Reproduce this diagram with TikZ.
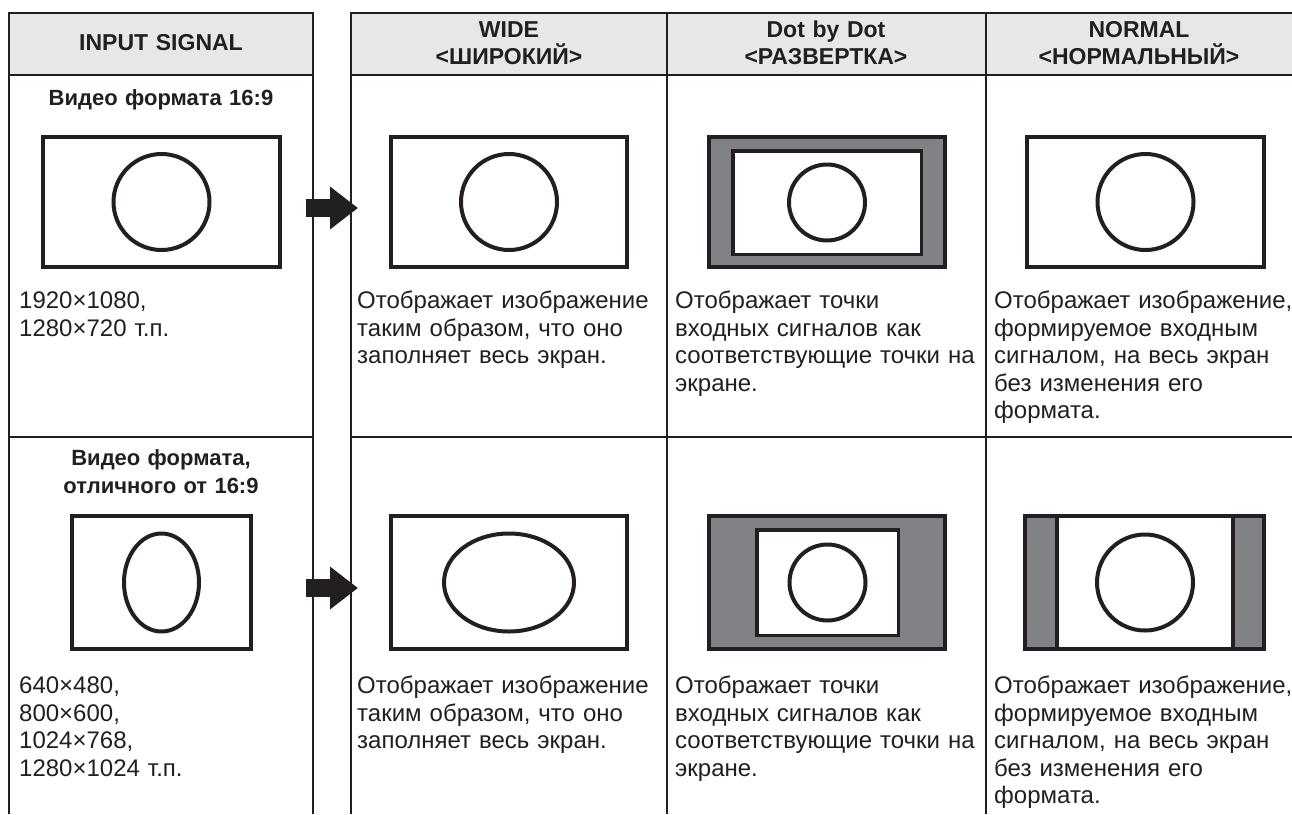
\documentclass[tikz,border=0pt]{standalone}
\usepackage{fontspec}
\setmainfont{Liberation Sans}
\usetikzlibrary{positioning, arrows.meta, shapes.geometric}
\definecolor{ink}{HTML}{231F20}
\definecolor{hdbg}{HTML}{E6E7E8}
\definecolor{mask}{HTML}{808285}

\begin{document}
\begin{tikzpicture}[
    x=1pt, y=-1pt,
    rule/.style={draw=ink, line width=2pt},
    hdr/.style={font=\fontsize{23}{26.3}\selectfont\bfseries, text=ink, align=center,
        text width=305pt, inner sep=0pt, anchor=base},
    ttl/.style={font=\fontsize{22}{28}\selectfont\bfseries, text=ink, align=center,
        text width=295pt, inner sep=0pt, anchor=base},
    txt/.style={font=\fontsize{24}{27.5}\selectfont, text=ink, align=left,
        text width=315pt, inner sep=0pt, anchor=base west},
    scr/.style={rectangle, draw=ink, line width=4pt, fill=white, inner sep=0pt},
    inner/.style={rectangle, draw=ink, line width=3.5pt, fill=white, inner sep=0pt},
    ring/.style={circle, draw=ink, line width=4pt, inner sep=0pt, minimum size=#1},
    oval/.style={ellipse, draw=ink, line width=4pt, inner sep=0pt},
    blk/.style={draw=ink, line width=18pt, -{Triangle[length=28pt, width=41pt]}},
]
\fill[white] (0,0) rectangle (1292,814);
\useasboundingbox (0,0) rectangle (1292,814);

% ---------------------------------------------------------------- table
\fill[hdbg] (9,12.5) rectangle (313,75);
\fill[hdbg] (351,12.5) rectangle (1292,75);

\draw[rule] (9,814) -- (9,12.5) -- (313,12.5) -- (313,814);
\draw[rule] (9,75) -- (313,75);
\draw[rule] (9,437) -- (313,437);

\draw[rule] (351,814) -- (351,12.5) -- (1292,12.5);
\draw[rule] (351,75) -- (1292,75);
\draw[rule] (351,437) -- (1292,437);
\draw[rule] (667,12.5) -- (667,814);
\draw[rule] (986,12.5) -- (986,814);

% ---------------------------------------------------------------- header
\node (hIn)   [hdr] at (161,50.7)  {INPUT SIGNAL};
\node (hWide) [hdr] at (509,37.7)  {WIDE\\<ШИРОКИЙ>};
\node (hDot)  [hdr] at (826,37.7)  {Dot by Dot\\<РАЗВЕРТКА>};
\node (hNorm) [hdr] at (1139,37.7) {NORMAL\\<НОРМАЛЬНЫЙ>};

% ---------------------------------------------------------------- 16:9 row
\node (tIn1) [ttl] at (161,105.5) {Видео формата 16:9};

\node (sIn1)   [scr, minimum width=237, minimum height=130] at (161.5,202) {};
\node (cIn1)   [ring=96] at (sIn1.center) {};
\node (sWide1) [scr, minimum width=236, minimum height=130] at (509,202) {};
\node (cWide1) [ring=96] at (sWide1.center) {};
\node (sDot1)  [scr, fill=mask, minimum width=236, minimum height=130] at (827,202) {};
\node (iDot1)  [inner, minimum width=188.5, minimum height=103.5] at (827,202.5) {};
\node (cDot1)  [ring=76] at (iDot1.center) {};
\node (sNorm1) [scr, minimum width=237, minimum height=130] at (1145.5,202) {};
\node (cNorm1) [ring=96] at (sNorm1.center) {};

\coordinate (a1s) at (306,208);
\coordinate (a1e) at (358,208);
\draw[blk] (a1s) -- (a1e);

\node (dIn1)   [txt] at (19,308.6)  {1920×1080,\\1280×720 т.п.};
\node (dWide1) [txt] at (357,308.6) {Отображает изображение\\таким образом, что оно\\заполняет весь экран.};
\node (dDot1)  [txt] at (675,308.6) {Отображает точки\\входных сигналов как\\соответствующие точки на\\экране.};
\node (dNorm1) [txt] at (994,308.6) {Отображает изображение,\\формируемое входным\\сигналом, на весь экран\\без изменения его\\формата.};

% ---------------------------------------------------------------- other row
\node (tIn2) [ttl] at (161,465.5) {Видео формата,\\отличного от 16:9};

\node (sIn2)   [scr, minimum width=179, minimum height=133] at (161.5,582.5) {};
\node (cIn2)   [oval, minimum width=75, minimum height=98] at (sIn2.center) {};
\node (sWide2) [scr, minimum width=236, minimum height=133] at (509,582.5) {};
\node (cWide2) [oval, minimum width=130, minimum height=98] at (sWide2.center) {};
\node (sDot2)  [scr, fill=mask, minimum width=236, minimum height=133] at (827,582.5) {};
\node (iDot2)  [inner, minimum width=141.5, minimum height=105.5] at (827.5,582.5) {};
\node (cDot2)  [ring=76] at (iDot2.center) {};
\node (sNorm2) [scr, fill=mask, minimum width=239, minimum height=133] at (1144.5,582.5) {};
\node (iNorm2) [scr, minimum width=176, minimum height=133] at (1145,582.5) {};
\node (cNorm2) [ring=96] at (iNorm2.center) {};

\coordinate (a2s) at (306,588);
\coordinate (a2e) at (358,588);
\draw[blk] (a2s) -- (a2e);

\node (dIn2)   [txt] at (19,693.6)  {640×480,\\800×600,\\1024×768,\\1280×1024 т.п.};
\node (dWide2) [txt] at (357,693.6) {Отображает изображение\\таким образом, что оно\\заполняет весь экран.};
\node (dDot2)  [txt] at (675,693.6) {Отображает точки\\входных сигналов как\\соответствующие точки на\\экране.};
\node (dNorm2) [txt] at (994,693.6) {Отображает изображение,\\формируемое входным\\сигналом, на весь экран\\без изменения его\\формата.};

\end{tikzpicture}
\end{document}
